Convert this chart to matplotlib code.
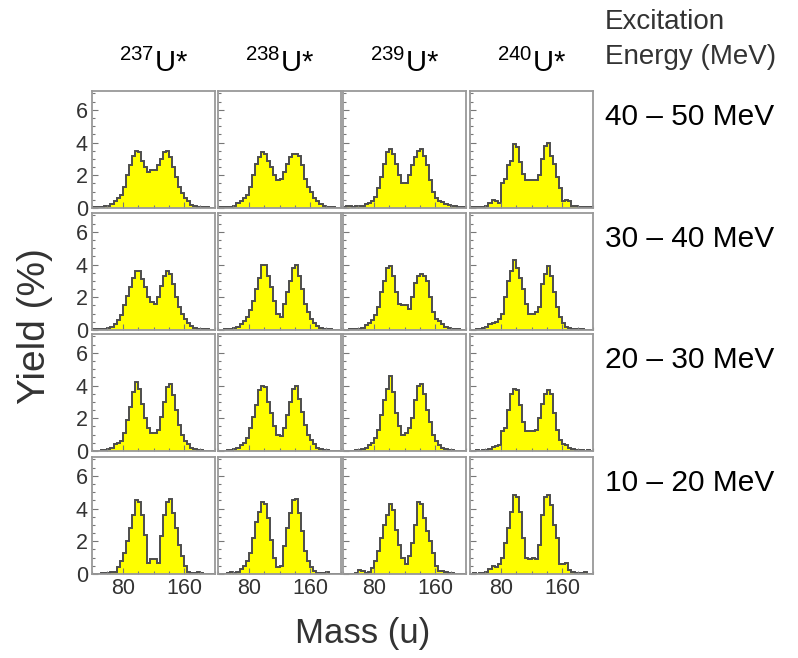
import numpy as np
import matplotlib
matplotlib.use('Agg')
import matplotlib.pyplot as plt
from matplotlib.ticker import MultipleLocator, FixedLocator

plt.rcParams['font.family'] = ['Liberation Sans', 'DejaVu Sans']
plt.rcParams['mathtext.fontset'] = 'custom'
plt.rcParams['mathtext.rm'] = 'Liberation Sans'

# 4 u wide mass bins, 40..200
edges = np.arange(40, 201, 4)

nuclei = ['237', '238', '239', '240']
energy_bins = ['40 – 50 MeV', '30 – 40 MeV', '20 – 30 MeV', '10 – 20 MeV']

# yields (%) per bin, rows = excitation energy, cols = nucleus
y_40_50_u237 = [0.05, 0.05, 0.05, 0.08, 0.1, 0.15, 0.25, 0.4, 0.6, 0.8, 1.3, 2.0, 2.6, 3.2, 3.5, 3.4, 2.9, 2.5, 2.2, 2.3,
                2.3, 2.6, 3.0, 3.4, 3.5, 3.1, 2.5, 1.9, 1.3, 0.9, 0.6, 0.4, 0.2, 0.12, 0.08, 0.05, 0.05, 0.04, 0.03, 0.03]
y_40_50_u238 = [0.05, 0.05, 0.05, 0.05, 0.08, 0.15, 0.3, 0.45, 0.6, 0.8, 1.3, 2.0, 2.7, 3.1, 3.4, 3.3, 2.9, 2.5, 2.0, 1.7,
                1.8, 2.2, 2.7, 3.1, 3.3, 3.3, 3.2, 2.6, 1.8, 1.3, 1.0, 0.6, 0.4, 0.25, 0.12, 0.08, 0.05, 0.05, 0.03, 0.03]
y_40_50_u239 = [0.05, 0.1, 0.1, 0.08, 0.1, 0.1, 0.15, 0.25, 0.3, 0.4, 0.7, 1.2, 1.9, 2.7, 3.4, 3.6, 3.3, 2.7, 2.0, 1.5,
                1.5, 2.0, 2.6, 3.1, 3.5, 3.6, 3.2, 2.6, 1.7, 1.0, 0.6, 0.45, 0.35, 0.25, 0.2, 0.15, 0.1, 0.08, 0.05, 0.05]
y_40_50_u240 = [0.05, 0.05, 0.05, 0.05, 0.08, 0.1, 0.3, 0.5, 0.45, 0.3, 1.5, 1.8, 2.6, 2.9, 3.9, 3.7, 2.8, 2.1, 1.7, 1.7,
                1.7, 1.7, 2.0, 3.0, 3.8, 4.0, 3.2, 2.7, 1.9, 1.2, 0.4, 0.5, 0.4, 0.15, 0.1, 0.05, 0.05, 0.05, 0.08, 0.05]

y_30_40_u237 = [0.05, 0.05, 0.05, 0.05, 0.08, 0.1, 0.2, 0.35, 0.6, 0.9, 1.5, 2.1, 2.6, 3.2, 3.6, 3.6, 3.1, 2.6, 2.0, 1.7,
                1.6, 2.0, 2.7, 3.3, 3.6, 3.4, 2.8, 2.0, 1.4, 1.0, 0.7, 0.4, 0.25, 0.12, 0.08, 0.05, 0.05, 0.05, 0.03, 0.03]
y_30_40_u238 = [0.03, 0.03, 0.05, 0.05, 0.08, 0.12, 0.2, 0.35, 0.55, 0.8, 1.2, 1.8, 2.5, 3.2, 4.0, 4.0, 3.3, 2.6, 1.8, 1.0,
                0.8, 1.6, 2.3, 3.0, 3.8, 4.0, 3.3, 2.5, 1.6, 1.1, 0.7, 0.45, 0.25, 0.12, 0.08, 0.05, 0.05, 0.03, 0.03, 0.03]
y_30_40_u239 = [0.03, 0.03, 0.05, 0.05, 0.05, 0.08, 0.12, 0.3, 0.45, 0.6, 0.9, 1.4, 2.3, 3.0, 3.8, 3.9, 3.3, 2.3, 1.6, 1.5,
                1.5, 1.3, 2.0, 2.9, 3.3, 3.4, 3.3, 3.0, 2.0, 1.1, 0.7, 0.55, 0.35, 0.2, 0.1, 0.08, 0.05, 0.05, 0.03, 0.03]
y_30_40_u240 = [0.03, 0.03, 0.05, 0.08, 0.15, 0.2, 0.35, 0.45, 0.5, 0.7, 1.0, 2.0, 3.0, 3.6, 4.3, 3.8, 3.2, 2.5, 1.6, 1.0,
                1.0, 1.1, 1.4, 2.8, 3.4, 3.9, 3.3, 2.3, 1.4, 0.8, 0.4, 0.2, 0.12, 0.08, 0.05, 0.05, 0.05, 0.03, 0.03, 0.03]

y_20_30_u237 = [0.03, 0.03, 0.03, 0.05, 0.08, 0.1, 0.2, 0.4, 0.5, 0.6, 1.1, 1.9, 2.7, 3.6, 4.2, 3.8, 2.9, 2.0, 1.4, 1.1,
                1.1, 1.3, 2.1, 3.0, 3.9, 4.1, 3.4, 2.5, 1.6, 1.0, 0.6, 0.45, 0.2, 0.1, 0.05, 0.05, 0.03, 0.03, 0.03, 0.03]
y_20_30_u238 = [0.03, 0.03, 0.03, 0.05, 0.05, 0.1, 0.2, 0.35, 0.5, 0.8, 1.4, 2.1, 2.8, 3.7, 4.0, 3.9, 3.0, 2.3, 1.5, 1.0,
                0.9, 1.4, 2.2, 3.0, 3.8, 4.0, 3.2, 2.4, 1.6, 1.0, 0.7, 0.4, 0.2, 0.1, 0.05, 0.05, 0.03, 0.03, 0.03, 0.03]
y_20_30_u239 = [0.03, 0.03, 0.03, 0.03, 0.05, 0.05, 0.1, 0.2, 0.35, 0.5, 0.8, 1.3, 2.2, 3.1, 3.8, 4.6, 3.6, 2.3, 1.5, 1.0,
                1.1, 1.4, 2.0, 3.1, 4.0, 4.1, 3.5, 2.5, 1.8, 1.0, 0.6, 0.35, 0.2, 0.1, 0.05, 0.05, 0.03, 0.03, 0.03, 0.03]
y_20_30_u240 = [0.03, 0.03, 0.05, 0.03, 0.05, 0.08, 0.15, 0.25, 0.3, 0.35, 1.2, 1.4, 2.5, 3.5, 3.8, 3.7, 2.8, 1.8, 1.2, 1.2,
                1.2, 1.3, 2.0, 2.9, 3.5, 3.7, 3.5, 2.3, 1.3, 0.7, 0.45, 0.35, 0.2, 0.1, 0.05, 0.05, 0.05, 0.03, 0.05, 0.03]

y_10_20_u237 = [0.03, 0.03, 0.03, 0.05, 0.05, 0.08, 0.1, 0.15, 0.4, 0.8, 1.3, 2.0, 2.8, 3.6, 4.5, 4.4, 3.6, 2.4, 0.7, 0.9,
                0.9, 0.7, 2.3, 3.6, 4.4, 4.6, 3.7, 2.8, 1.8, 1.1, 0.5, 0.15, 0.08, 0.08, 0.1, 0.05, 0.03, 0.03, 0.03, 0.03]
y_10_20_u238 = [0.03, 0.03, 0.03, 0.05, 0.1, 0.08, 0.15, 0.3, 0.5, 0.8, 1.3, 2.2, 3.2, 3.8, 4.4, 4.3, 3.4, 2.1, 1.0, 0.4,
                0.5, 1.7, 2.8, 3.7, 4.5, 4.6, 3.7, 2.6, 1.4, 0.8, 0.4, 0.2, 0.08, 0.05, 0.05, 0.1, 0.03, 0.03, 0.03, 0.03]
y_10_20_u239 = [0.03, 0.03, 0.03, 0.03, 0.08, 0.25, 0.2, 0.05, 0.1, 0.35, 0.8, 1.4, 2.2, 3.0, 3.6, 4.3, 3.9, 2.7, 1.8, 1.0,
                0.6, 1.1, 1.9, 3.0, 4.4, 4.3, 3.4, 2.6, 2.0, 1.3, 0.5, 0.2, 0.2, 0.15, 0.08, 0.05, 0.03, 0.03, 0.03, 0.03]
y_10_20_u240 = [0.03, 0.05, 0.03, 0.05, 0.05, 0.1, 0.3, 0.5, 0.45, 0.6, 1.0, 1.9, 2.8, 3.8, 4.8, 4.7, 3.8, 2.2, 1.0, 0.9,
                1.0, 0.9, 1.8, 3.6, 4.7, 4.8, 4.2, 3.0, 2.2, 0.6, 0.6, 0.7, 0.25, 0.1, 0.05, 0.05, 0.08, 0.1, 0.03, 0.03]

yields = [
    [y_40_50_u237, y_40_50_u238, y_40_50_u239, y_40_50_u240],
    [y_30_40_u237, y_30_40_u238, y_30_40_u239, y_30_40_u240],
    [y_20_30_u237, y_20_30_u238, y_20_30_u239, y_20_30_u240],
    [y_10_20_u237, y_10_20_u238, y_10_20_u239, y_10_20_u240],
]

W, H = 798, 658
fig = plt.figure(figsize=(W / 100, H / 100), dpi=100)

col_left = [92, 218, 343, 470]
col_w = 123
row_top = [91, 213, 334, 457]
row_h = 117
TXT = '#333333'

for r in range(4):
    for c in range(4):
        ax = fig.add_axes([col_left[c] / W, 1 - (row_top[r] + row_h) / H, col_w / W, row_h / H])
        vals = yields[r][c]
        ax.stairs(vals, edges, fill=True, color='#ffff00', lw=0)
        ax.stairs(vals, edges, color='#4d4d4d', lw=1.4)
        ax.set_xlim(40, 200)
        ax.set_ylim(0, 7.15)
        ax.xaxis.set_major_locator(FixedLocator([80, 160]))
        ax.xaxis.set_minor_locator(MultipleLocator(20))
        ax.yaxis.set_major_locator(MultipleLocator(2))
        ax.yaxis.set_minor_locator(MultipleLocator(0.5))
        ax.tick_params(which='both', direction='in', color='#777777', width=0.8,
                       labelsize=15.5, labelcolor=TXT, pad=3)
        ax.tick_params(which='major', length=4)
        ax.tick_params(which='minor', length=2)
        for sp in ax.spines.values():
            sp.set_color('#999999')
            sp.set_linewidth(1.3)
        if c > 0:
            ax.set_yticklabels([])
        if r < 3:
            ax.set_xticklabels([])
        if r == 0:
            ax.set_title(r'$\mathregular{^{' + nuclei[c] + '}}$U*', fontsize=21, pad=14, color='black')

for r in range(4):
    yc = row_top[r] + 26
    fig.text(605 / W, 1 - yc / H, energy_bins[r], fontsize=21.5, color='black', ha='left', va='center')

fig.text(605 / W, 1 - 22 / H, 'Excitation', fontsize=20, color=TXT, ha='left', va='center')
fig.text(605 / W, 1 - 57 / H, 'Energy (MeV)', fontsize=20, color=TXT, ha='left', va='center')

fig.text(35 / W, 1 - 326 / H, 'Yield (%)', fontsize=28, rotation=90, color=TXT, ha='center', va='center')
fig.text(363 / W, 1 - 633 / H, 'Mass (u)', fontsize=25, color=TXT, ha='center', va='center')

fig.savefig('out.png', dpi=100)
